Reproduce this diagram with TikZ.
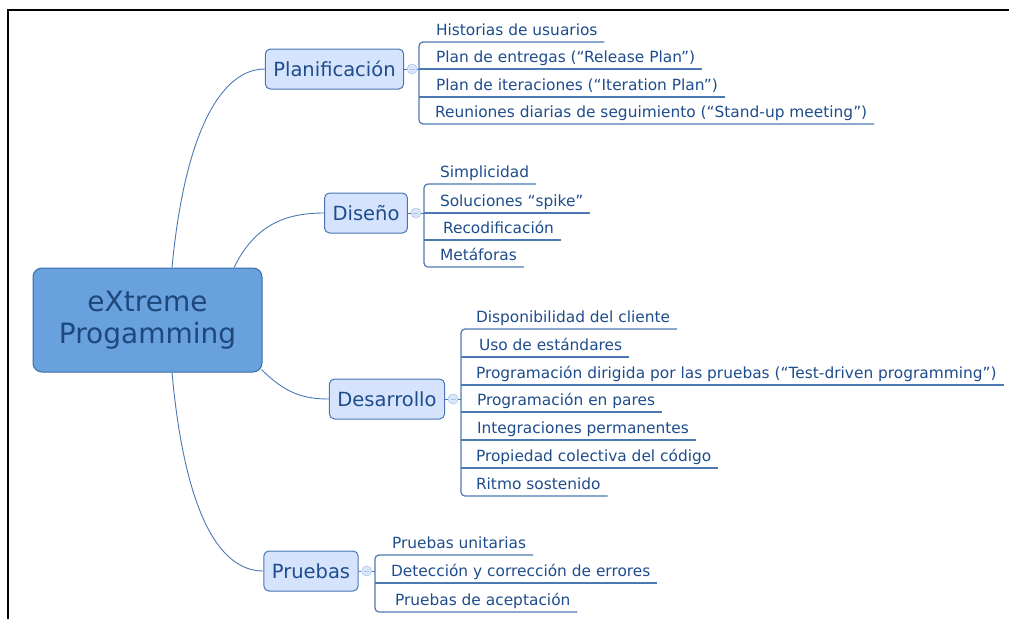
\documentclass[tikz,border=0pt]{standalone}
\usepackage{fontspec}
\setmainfont{DejaVu Sans}
\usepackage{tikz}
\usetikzlibrary{positioning,calc,shapes}

\definecolor{rootfill}{RGB}{104,161,221}
\definecolor{rootline}{RGB}{58,108,168}
\definecolor{rootink}{RGB}{30,72,124}
\definecolor{topicfill}{RGB}{213,227,252}
\definecolor{topicline}{RGB}{72,118,178}
\definecolor{ink}{RGB}{30,76,140}
\definecolor{wire}{RGB}{76,120,180}
\definecolor{knobfill}{RGB}{218,230,250}
\definecolor{knobline}{RGB}{172,196,232}

\tikzset{
  root/.style={draw=rootline,fill=rootfill,line width=1pt,rounded corners=9pt,
    minimum width=229pt,minimum height=104pt,align=center,text=rootink,
    font=\fontsize{28}{32}\selectfont},
  topic/.style={draw=topicline,fill=topicfill,line width=1pt,rounded corners=5pt,
    minimum height=40pt,inner xsep=8pt,text=ink,font=\fontsize{19.5}{22}\selectfont},
  leaf/.style={anchor=base west,inner sep=0pt,outer sep=0pt,text depth=7pt,
    text=ink,font=\fontsize{15.4}{18}\selectfont},
  uline/.style={draw=wire,line width=1.2pt},
  limb/.style={draw=wire,line width=0.9pt},
  knob/.style={circle,draw=knobline,fill=knobfill,minimum size=10pt,inner sep=0pt,line width=0.6pt},
}

\begin{document}
\begin{tikzpicture}[x=1pt,y=-1pt]
\useasboundingbox (0,0) rectangle (1009,619);
\draw[black, line width=2pt] (8,619) -- (8,10) -- (1009,10);

\node (xp) [root] at (147.5,320) {eXtreme\\Progamming};

\node (plan) [topic] at (334.5,69) {Planificación};
\node (dis)  [topic] at (366,213) {Diseño};
\node (des)  [topic] at (387,399) {Desarrollo};
\node (pru)  [topic] at (311,571) {Pruebas};

\draw[limb] ([xshift=24.5pt]xp.north) .. controls (185,130) and (222,69) .. (plan.west);
\draw[limb] ([xshift=86.5pt]xp.north) .. controls (255,225) and (285,213) .. (dis.west);
\draw[limb] ($(xp.south east)+(-1,-3)$) .. controls (285,393) and (303,399) .. (des.west);
\draw[limb] ([xshift=24.5pt]xp.south) .. controls (185,515) and (220,571) .. (pru.west);

% Planificacion
\coordinate (vp) at (419,0);
\node (h1) [leaf] at (436,35) {Historias de usuarios};
\node (h2) [leaf] at (436,62) {Plan de entregas (“Release Plan”)};
\node (h3) [leaf] at (436,90) {Plan de iteraciones (“Iteration Plan”)};
\node (h4) [leaf] at (435,117) {Reuniones diarias de seguimiento (“Stand-up meeting”)};

\draw[uline,rounded corners=4pt] ([xshift=7pt]h1.south east) -- (h1.south west -| vp)
  -- (h4.south west -| vp) -- ([xshift=7pt]h4.south east);
\draw[uline] (h2.south west -| vp) -- ([xshift=7pt]h2.south east);
\draw[uline] (h3.south west -| vp) -- ([xshift=7pt]h3.south east);

\node (kp) [knob] at ([xshift=8pt]plan.east) {};
\draw[limb] (plan.east) -- (kp.west);
\draw[limb] (kp.east) -- (kp -| vp);

% Diseno
\coordinate (vd) at (424,0);
\node (d1) [leaf] at (440,177) {Simplicidad};
\node (d2) [leaf] at (440,206) {Soluciones “spike”};
\node (d3) [leaf] at (443,233) {Recodificación};
\node (d4) [leaf] at (440,260) {Metáforas};

\draw[uline,rounded corners=4pt] ([xshift=7pt]d1.south east) -- (d1.south west -| vd)
  -- (d4.south west -| vd) -- ([xshift=7pt]d4.south east);
\draw[uline] (d2.south west -| vd) -- ([xshift=7pt]d2.south east);
\draw[uline] (d3.south west -| vd) -- ([xshift=7pt]d3.south east);

\node (kd) [knob] at ([xshift=8pt]dis.east) {};
\draw[limb] (dis.east) -- (kd.west);
\draw[limb] (kd.east) -- (kd -| vd);

% Desarrollo
\coordinate (vs) at (461,0);
\node (s1) [leaf] at (476,322) {Disponibilidad del cliente};
\node (s2) [leaf] at (479,350) {Uso de estándares};
\node (s3) [leaf] at (476,378) {Programación dirigida por las pruebas (“Test-driven programming”)};
\node (s4) [leaf] at (477,405) {Programación en pares};
\node (s5) [leaf] at (477,433) {Integraciones permanentes};
\node (s6) [leaf] at (476,461) {Propiedad colectiva del código};
\node (s7) [leaf] at (476,489) {Ritmo sostenido};

\draw[uline,rounded corners=4pt] ([xshift=7pt]s1.south east) -- (s1.south west -| vs)
  -- (s7.south west -| vs) -- ([xshift=7pt]s7.south east);
\foreach \n in {s2,s3,s4,s5,s6}
  \draw[uline] (\n.south west -| vs) -- ([xshift=7pt]\n.south east);

\node (ks) [knob] at ([xshift=8pt]des.east) {};
\draw[limb] (des.east) -- (ks.west);
\draw[limb] (ks.east) -- (ks -| vs);

% Pruebas
\coordinate (vu) at (375,0);
\node (u1) [leaf] at (392,548) {Pruebas unitarias};
\node (u2) [leaf] at (391,576) {Detección y corrección de errores};
\node (u3) [leaf] at (395,605) {Pruebas de aceptación};

\draw[uline,rounded corners=4pt] ([xshift=7pt]u1.south east) -- (u1.south west -| vu)
  -- (u3.south west -| vu) -- ([xshift=7pt]u3.south east);
\draw[uline] (u2.south west -| vu) -- ([xshift=7pt]u2.south east);

\node (ku) [knob] at ([xshift=8pt]pru.east) {};
\draw[limb] (pru.east) -- (ku.west);
\draw[limb] (ku.east) -- (ku -| vu);

\foreach \k in {kp,kd,ks,ku}
  \draw[knobline,line width=0.8pt] ([xshift=-2.5pt]\k.center) -- ([xshift=2.5pt]\k.center);

\end{tikzpicture}
\end{document}
